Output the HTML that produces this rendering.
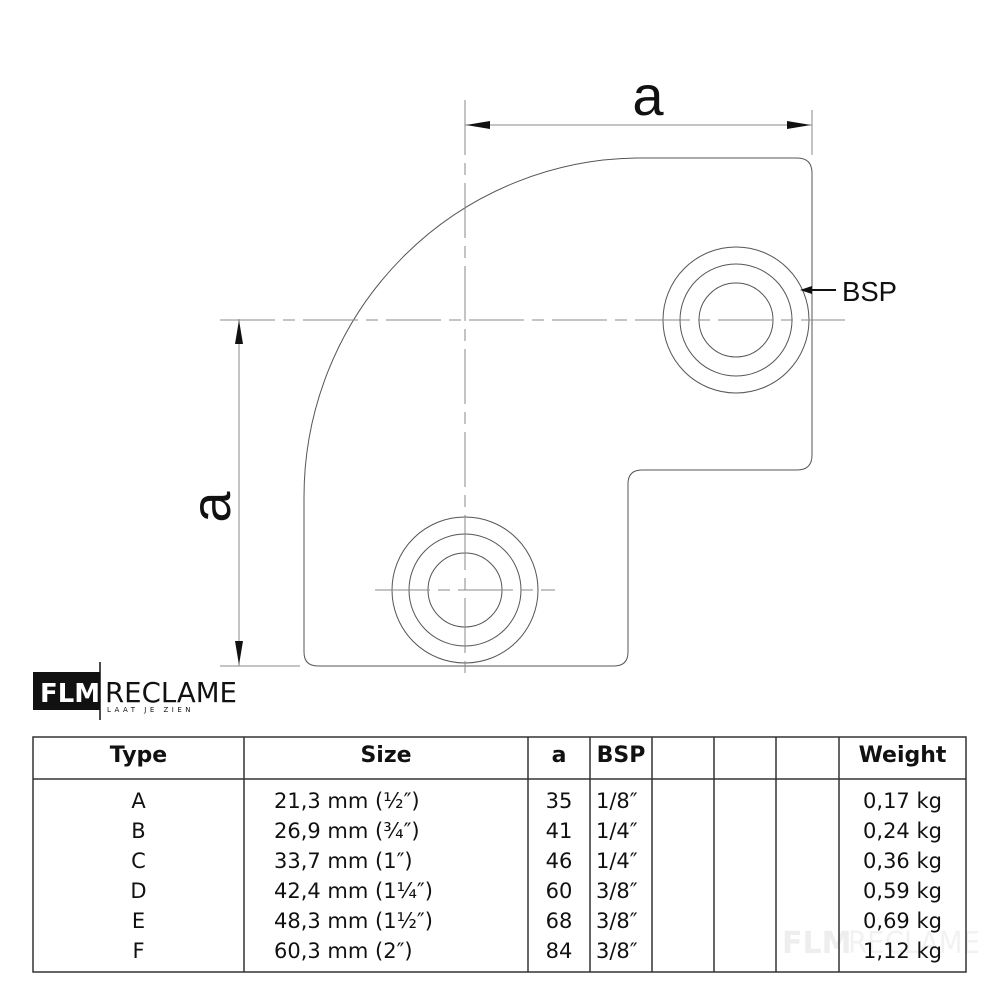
<!DOCTYPE html>
<html><head><meta charset="utf-8"><style>
body{margin:0;background:#fff;width:1000px;height:1000px;overflow:hidden;position:relative;font-family:"DejaVu Sans",Verdana,sans-serif}
svg{position:absolute;left:0;top:0}
.t{position:absolute;font-size:21px;color:#111;text-align:center}
.h{font-weight:bold;font-size:22px}
</style></head><body>
<svg width="1000" height="1000" xmlns="http://www.w3.org/2000/svg">
<text x="782" y="953" font-family="DejaVu Sans" font-weight="bold" font-size="30" fill="#eee">FLM</text>
<text x="848" y="953" font-family="DejaVu Sans" font-size="30" fill="#f2f2f2" textLength="132" lengthAdjust="spacingAndGlyphs">RECLAME</text>
<g fill="none" stroke="#555" stroke-width="1">
<path d="M641,158 L797,158 Q812,158 812,173 L812,455 Q812,470 797,470 L642,470 Q628,470 628,484 L628,652 Q628,666 614,666 L318,666 Q304,666 304,652 L304,497 A337,339 0 0 1 641,158 Z"/>
<circle cx="736" cy="320" r="73"/><circle cx="736" cy="320" r="56"/><circle cx="736" cy="320" r="37"/>
<circle cx="465" cy="590" r="73"/><circle cx="465" cy="590" r="56"/><circle cx="465" cy="590" r="37"/>
</g>
<g stroke="#888" stroke-width="1" fill="none">
<line x1="220" y1="320" x2="845" y2="320" stroke-dasharray="55,8,12,8"/>
<line x1="465" y1="100" x2="465" y2="680" stroke-dasharray="55,8,12,8"/>
<line x1="375" y1="590" x2="555" y2="590" stroke-dasharray="55,8,12,8"/>
<line x1="812" y1="110" x2="812" y2="155"/>
<line x1="465" y1="125" x2="812" y2="125"/>
<line x1="220" y1="666" x2="300" y2="666"/>
<line x1="239" y1="319" x2="239" y2="666"/>
</g>
<g fill="#111">
<polygon points="466,125 490,121 490,129"/>
<polygon points="811,125 787,121 787,129"/>
<polygon points="239,320 235,344 243,344"/>
<polygon points="239,665 235,641 243,641"/>
<polygon points="800,290 812,286 812,294"/>
</g>
<line x1="810" y1="290" x2="836" y2="290" stroke="#111" stroke-width="2"/>
<text x="648" y="115" font-family="Liberation Sans" font-size="56" text-anchor="middle" fill="#111">a</text>
<text transform="translate(230,507) rotate(-90)" font-family="Liberation Sans" font-size="56" text-anchor="middle" fill="#111">a</text>
<text x="842" y="301" font-family="Liberation Sans" font-size="28" fill="#111" textLength="55" lengthAdjust="spacingAndGlyphs">BSP</text>
<rect x="33" y="672" width="67" height="38" fill="#111"/>
<line x1="100" y1="662" x2="100" y2="720" stroke="#111" stroke-width="1.5"/>
<text x="40" y="702" font-family="DejaVu Sans" font-weight="bold" font-size="26" fill="#fff" textLength="60" lengthAdjust="spacingAndGlyphs">FLM</text>
<text x="105" y="702" font-family="DejaVu Sans" font-size="28" fill="#111" textLength="132" lengthAdjust="spacingAndGlyphs">RECLAME</text>
<text x="107" y="712" font-family="DejaVu Sans" font-size="7" fill="#111" letter-spacing="3.5">LAAT JE ZIEN</text>
<g stroke="#333" stroke-width="1.5" fill="none">
<rect x="33" y="737" width="933" height="235"/>
<line x1="33" y1="779" x2="966" y2="779"/>
<line x1="244" y1="737" x2="244" y2="972"/>
<line x1="528" y1="737" x2="528" y2="972"/>
<line x1="590" y1="737" x2="590" y2="972"/>
<line x1="652" y1="737" x2="652" y2="972"/>
<line x1="714" y1="737" x2="714" y2="972"/>
<line x1="776" y1="737" x2="776" y2="972"/>
<line x1="839" y1="737" x2="839" y2="972"/>
</g>
</svg>
<div class="t h" style="left:33px;width:211px;top:743px">Type</div>
<div class="t h" style="left:244px;width:284px;top:743px">Size</div>
<div class="t h" style="left:528px;width:62px;top:743px">a</div>
<div class="t h" style="left:590px;width:62px;top:743px">BSP</div>
<div class="t h" style="left:839px;width:127px;top:743px">Weight</div>
<div class="t" style="left:33px;width:211px;top:786px;line-height:30px">A<br>B<br>C<br>D<br>E<br>F</div>
<div class="t" style="left:274px;top:786px;line-height:30px;text-align:left">21,3 mm (½″)<br>26,9 mm (¾″)<br>33,7 mm (1″)<br>42,4 mm (1¼″)<br>48,3 mm (1½″)<br>60,3 mm (2″)</div>
<div class="t" style="left:528px;width:62px;top:786px;line-height:30px">35<br>41<br>46<br>60<br>68<br>84</div>
<div class="t" style="left:596px;top:786px;line-height:30px;text-align:left">1/8″<br>1/4″<br>1/4″<br>3/8″<br>3/8″<br>3/8″</div>
<div class="t" style="left:839px;width:127px;top:786px;line-height:30px">0,17 kg<br>0,24 kg<br>0,36 kg<br>0,59 kg<br>0,69 kg<br>1,12 kg</div>
</body></html>
